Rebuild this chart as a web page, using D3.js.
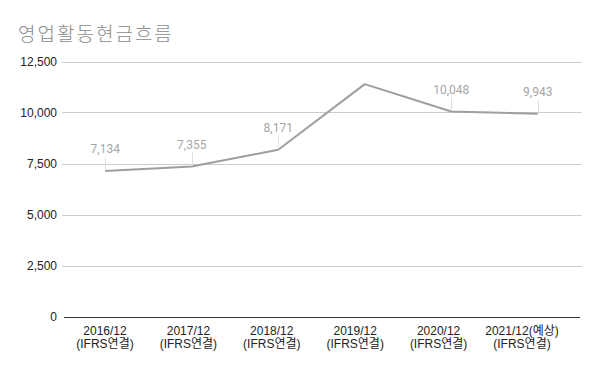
<!DOCTYPE html>
<html>
<head>
<meta charset="utf-8">
<script src="https://cdn.jsdelivr.net/npm/d3@7"></script>
<style>
  body { margin: 0; background: #fff; }
  text { font-family: Arial, "Liberation Sans", "Noto Sans CJK KR", sans-serif; }
</style>
</head>
<body>
<div class="chart"></div>
<script>
// 영업활동현금흐름 line chart

var years = ['2016/12', '2017/12', '2018/12', '2019/12', '2020/12', '2021/12(예상)'];
var subLabels = ['(IFRS연결)', '(IFRS연결)', '(IFRS연결)', '(IFRS연결)', '(IFRS연결)', '(IFRS연결)'];
var cashFlow = [7134, 7355, 8171, 11390, 10048, 9943];
var showLabel = [true, true, true, false, true, true];
var yTicks = [0, 2500, 5000, 7500, 10000, 12500];

var opts = {
  width: 600,
  height: 371,
  left: 62,
  right: 581,
  top: 61.5,
  bottom: 316.5
};

var svg = d3.select('.chart').append('svg')
  .attr('width', opts.width)
  .attr('height', opts.height);

var x = d3.scalePoint().domain(years).range([opts.left, opts.right]).padding(0.5);
// category labels sit a little left of the points in the original
var xLabel = d3.scalePoint().domain(years).range([105, 522]);
var y = d3.scaleLinear().domain([0, 12500]).range([opts.bottom, opts.top]);

var fmt = d3.format(',');

// title
svg.append('text')
  .attr('x', 18)
  .attr('y', 41)
  .attr('fill', '#8a8a8a')
  .style('font-family', '"Noto Sans CJK KR", sans-serif')
  .style('font-size', '19px')
  .style('font-weight', 300)
  .style('letter-spacing', '2px')
  .text('영업활동현금흐름');

// gridlines
svg.append('g').selectAll('line').data(yTicks.filter(d => d > 0)).enter().append('line')
  .attr('x1', opts.left).attr('x2', opts.right + 1)
  .attr('y1', d => Math.round(y(d)) + 0.5).attr('y2', d => Math.round(y(d)) + 0.5)
  .attr('stroke', '#cccccc');

// y tick labels
svg.append('g').selectAll('text').data(yTicks).enter().append('text')
  .attr('x', 57)
  .attr('y', d => y(d) + 4)
  .attr('text-anchor', 'end')
  .attr('fill', '#222')
  .style('font-size', '12px')
  .text(d => fmt(d));

// baseline
svg.append('line')
  .attr('x1', opts.left + 2).attr('x2', opts.right - 1)
  .attr('y1', Math.round(y(0)) + 0.5).attr('y2', Math.round(y(0)) + 0.5)
  .attr('stroke', '#333');

// x labels
var xl = svg.append('g').selectAll('text').data(years).enter().append('text')
  .attr('text-anchor', 'middle')
  .attr('fill', '#222')
  .style('font-size', '12px');
xl.append('tspan').attr('x', d => xLabel(d)).attr('y', 335).text(d => d);
xl.append('tspan').attr('x', d => xLabel(d)).attr('y', 348).text((d, i) => subLabels[i]);

// line
var line = d3.line()
  .x((d, i) => x(years[i]))
  .y(d => y(d));

svg.append('path')
  .datum(cashFlow)
  .attr('d', line)
  .attr('fill', 'none')
  .attr('stroke', '#9e9e9e')
  .attr('stroke-width', 2)
  .attr('stroke-linejoin', 'round');

// data labels with leader lines
var labelData = cashFlow.map((v, i) => ({ year: years[i], value: v, show: showLabel[i] }))
  .filter(d => d.show);

svg.append('g').selectAll('line').data(labelData).enter().append('line')
  .attr('x1', d => Math.round(x(d.year)) + 0.5).attr('x2', d => Math.round(x(d.year)) + 0.5)
  .attr('y1', d => y(d.value) - 1).attr('y2', d => y(d.value) - 14)
  .attr('stroke', '#e0e0e0');

svg.append('g').selectAll('text').data(labelData).enter().append('text')
  .attr('x', d => x(d.year))
  .attr('y', d => y(d.value) - 17.5)
  .attr('text-anchor', 'middle')
  .attr('fill', '#a6a6a6')
  .style('font-family', 'Roboto, sans-serif')
  .style('font-size', '12px')
  .text(d => fmt(d.value));
</script>
</body>
</html>
